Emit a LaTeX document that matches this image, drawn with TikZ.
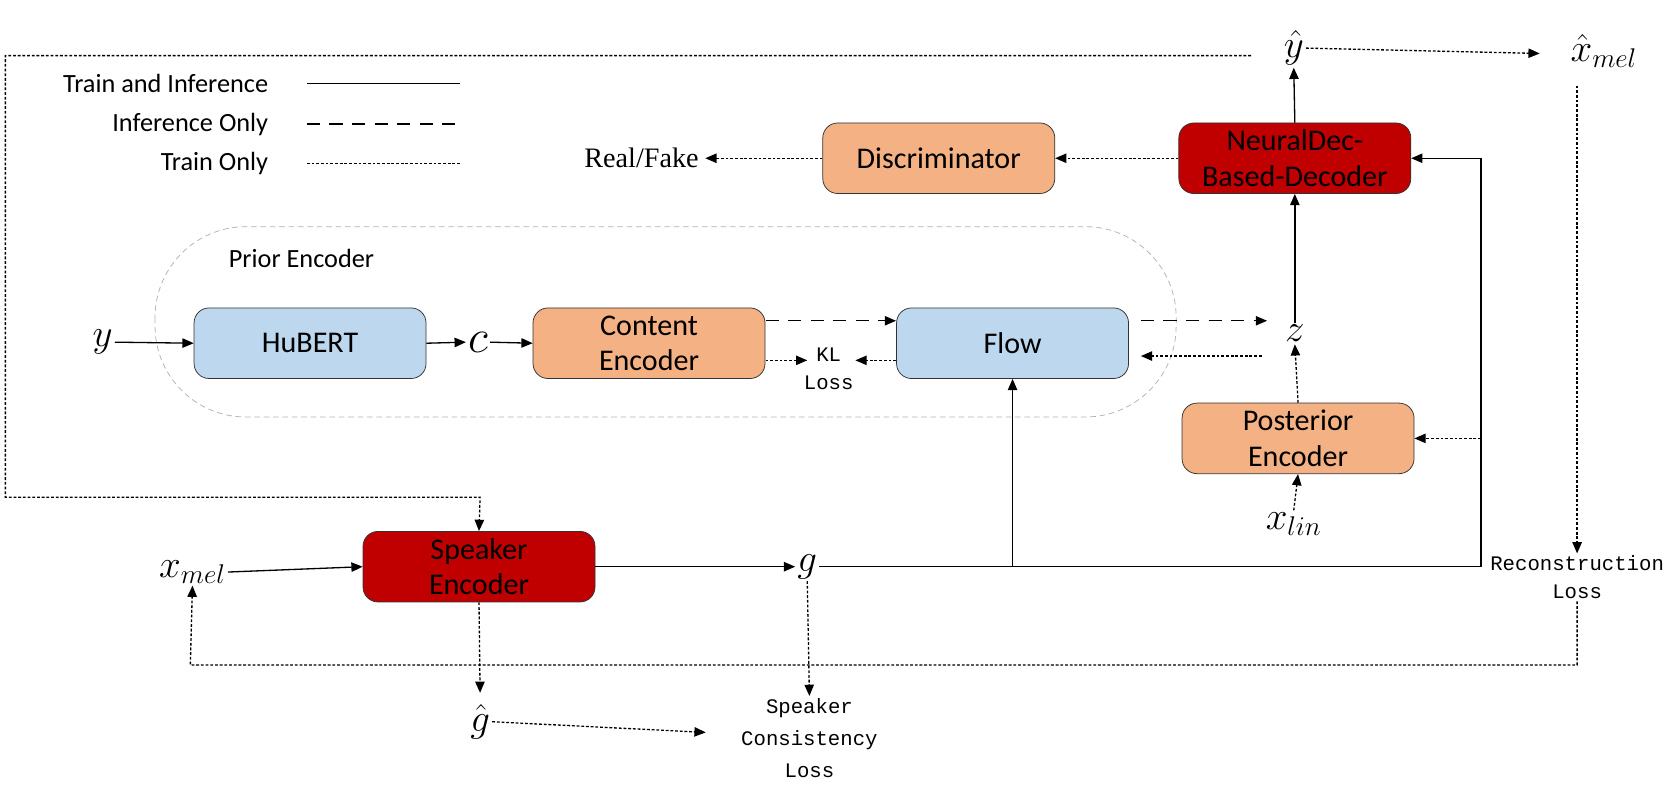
\documentclass[tikz,border=0pt]{standalone}
\usepackage{fontspec}
\setmainfont{Carlito}
\newfontfamily\mono{Liberation Mono}
\newfontfamily\tnr{Liberation Serif}
\usetikzlibrary{arrows.meta}
\begin{document}
\begin{tikzpicture}[x=0.02cm,y=-0.02cm,
  box/.style={draw=black!80,rounded corners=0.28cm,minimum width=4.34cm,minimum height=1.32cm,align=center,font=\fontsize{16}{19}\selectfont,inner sep=1pt},
  blue/.style={box,fill=blue!12!cyan!10!white,fill={rgb,255:red,189;green,215;blue,238}},
  orng/.style={box,fill={rgb,255:red,244;green,177;blue,131}},
  red/.style={box,fill={rgb,255:red,192;green,0;blue,0}},
  m/.style={font=\fontsize{20}{22}\selectfont,inner sep=1pt},
  lbl/.style={font=\mono\fontsize{11}{15}\selectfont,align=center,inner sep=1pt},
  ar/.style={-{Triangle[length=6pt,width=5pt]},line width=0.7pt},
  sol/.style={ar},
  dsh/.style={ar,dash pattern=on 7pt off 5pt},
  dot/.style={ar,dash pattern=on 1.5pt off 1pt},
  ln/.style={line width=0.7pt}]
\useasboundingbox (0,0) rectangle (1560,737);
% legend
\node[anchor=east,font=\fontsize{14}{16}\selectfont] (l1) at (257,78) {Train and Inference};
\node[anchor=east,font=\fontsize{14}{16}\selectfont] (l2) at (257,116) {Inference Only};
\node[anchor=east,font=\fontsize{14}{16}\selectfont] (l3) at (257,153) {Train Only};
\draw[ln] (287,78) -- (430,78);
\draw[ln,dash pattern=on 7pt off 5pt] (287,116) -- (430,116);
\draw[ln,dash pattern=on 1.5pt off 1pt] (287,153) -- (430,153);
% prior encoder
\draw[gray!60,dash pattern=on 3pt off 2pt,rounded corners=1.7cm] (145,212) rectangle (1100,390);
\node[font=\fontsize{14}{16}\selectfont] (pe) at (282,242) {Prior Encoder};
% boxes
\node[orng] (disc) at (878,148) {Discriminator};
\node[red] (dec) at (1211,148) {NeuralDec-\\Based-Decoder};
\node[blue] (hub) at (290,321) {HuBERT};
\node[orng] (ce) at (607,321) {Content\\Encoder};
\node[blue] (flow) at (947,321) {Flow};
\node[orng] (post) at (1214,410) {Posterior\\Encoder};
\node[red] (spk) at (448,530) {Speaker\\Encoder};
% symbols
\node[font=\tnr\fontsize{15}{17}\selectfont] (rf) at (600,148) {Real/Fake};
\node[m] (yh) at (1210,45) {$\hat{y}$};
\node[m] (xh) at (1500,48) {$\hat{x}_{mel}$};
\node[m] (y) at (96,320) {$y$};
\node[m,font=\fontsize{24}{26}\selectfont] (c) at (447,320) {$c$};
\node[m] (z) at (1211,312) {$z$};
\node[m] (xl) at (1210,490) {$x_{lin}$};
\node[m] (xm) at (180,535) {$x_{mel}$};
\node[m] (g) at (755,530) {$g$};
\node[m] (gh) at (449,675) {$\hat{g}$};
\node[lbl] (kl) at (775,345) {KL\\Loss};
\node[lbl] (rec) at (1475,540) {Reconstruction\\Loss};
\node[lbl,font=\mono\fontsize{11}{17}\selectfont] (scl) at (757,690) {Speaker\\Consistency\\Loss};
\coordinate (vr) at (1385,530);
\coordinate (br) at (947,530);
% connectors
\draw[dot] (dec.west) -- (disc.east);
\draw[dot] (disc.west) -- (rf.east);
\draw[sol] (dec.north) -- (yh.south);
\draw[dot] (yh.east) -- (1440,50);
\draw[dot] (1170,52) -- (5,52) -- (5,465) -- (449,465) -- (spk.north);
\draw[sol] (y.east) -- (hub.west);
\draw[sol] (hub.east) -- (c.west);
\draw[sol] (c.east) -- (ce.west);
\draw[dsh] (716,300) -- (838,300);
\draw[dot] (716,337) -- (755,337);
\draw[dot] (838,337) -- (800,337);
\draw[dsh] (1067,300) -- (1185,300);
\draw[dot] (1180,333) -- (1067,333);
\draw[sol] (z.north) -- (dec.south);
\draw[dot] (post.north) -- (z.south);
\draw[dot] (xl.north) -- (post.south);
\draw[ln] (g.east) -- (vr);
\draw[sol] (vr) -- (1385,148) -- (dec.east);
\draw[dot] (1385,410) -- (post.east);
\draw[sol] (br) -- (flow.south);
\draw[sol] (xm.east) -- (spk.west);
\draw[sol] (spk.east) -- (g.west);
\draw[dot] (1475,80) -- (rec.north);
\draw[dot] (rec.south) -- (1475,622) -- (178,622) -- (xm.south);
\draw[dot] (spk.south) -- (449,648);
\draw[dot] (gh.east) -- (660,685);
\draw[dot] (g.south) -- (scl.north);
\end{tikzpicture}
\end{document}
